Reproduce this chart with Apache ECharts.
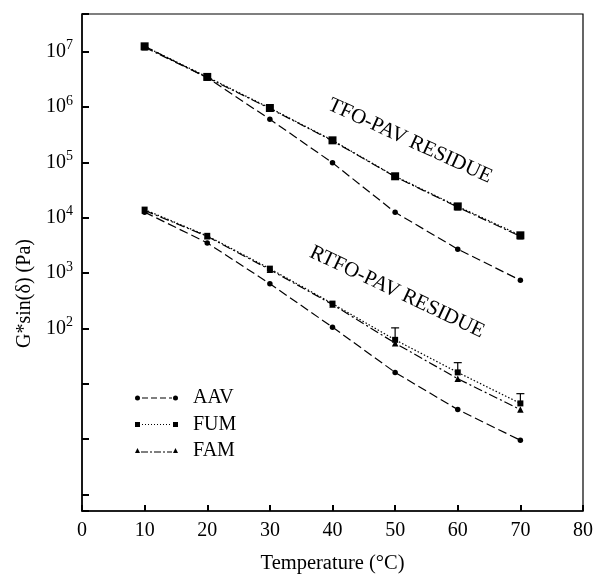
<!DOCTYPE html>
<html>
<head>
<meta charset="utf-8">
<script src="https://cdn.jsdelivr.net/npm/echarts@6/dist/echarts.min.js"></script>
<style>
  html, body { margin: 0; padding: 0; background: #fff; }
  #main { width: 595px; height: 578px; }
</style>
</head>
<body>
<div id="main"></div>
<script>
// temperatures (°C)
var temps = [10, 20, 30, 40, 50, 60, 70];

// TFO-PAV residue, G*sin(delta) in Pa
var tfoAAV = [1.25e7, 3.4e6, 6.0e5, 9.8e4, 1.25e4, 2.7e3, 740];
var tfoFUM = [1.25e7, 3.5e6, 9.6e5, 2.5e5, 5.6e4, 1.6e4, 4.8e3];
var tfoFAM = [1.2e7, 3.4e6, 9.4e5, 2.45e5, 5.5e4, 1.55e4, 4.6e3];

// RTFO-PAV residue
var rtfoAAV = [1.26e4, 3.5e3, 640, 105, 16, 3.4, 0.95];
var rtfoFUM = [1.4e4, 4.7e3, 1.2e3, 280, 62, 16, 4.4];
var rtfoFAM = [1.35e4, 4.6e3, 1.15e3, 270, 54, 12.3, 3.4];

// upper error bars on RTFO FUM
var errTemps = [50, 60, 70];
var errTop = [102, 24, 6.6];

var font = 'Liberation Serif';

function pairs(ys) {
    return temps.map(function (t, i) { return [t, ys[i]]; });
}

var errData = errTemps.map(function (t, i) {
    return [t, rtfoFUM[temps.indexOf(t)], errTop[i]];
});

var styles = {
    AAV: { symbol: 'circle', size: 5.5, dash: [9, 4] },
    FUM: { symbol: 'rect', size: 6, dash: [1.5, 2] },
    FAM: { symbol: 'triangle', size: 6.5, dash: [9, 3, 2, 3] }
};

function lineSeries(name, ys, big) {
    var s = styles[name];
    return {
        name: name,
        type: 'line',
        data: pairs(ys),
        symbol: s.symbol,
        symbolSize: big ? s.size + 2 : s.size,
        color: '#000',
        lineStyle: { color: '#000', width: 1.2, type: s.dash },
        itemStyle: { color: '#000' },
        animation: false,
        z: 3
    };
}

var chartDom = document.getElementById('main');
var myChart = echarts.init(chartDom);
var option;

option = {
    backgroundColor: '#fff',
    animation: false,
    grid: {
        left: 82, right: 12, top: 14, bottom: 67,
        show: true, borderColor: '#000', borderWidth: 1.2,
        outerBoundsMode: 'none'
    },
    legend: {
        orient: 'vertical',
        left: 135, top: 388, padding: 0,
        itemWidth: 43, itemHeight: 8, itemGap: 6.5,
        textStyle: { fontFamily: font, fontSize: 20, color: '#000', padding: [0, 0, 0, 10], lineHeight: 20 },
        data: [
            { name: 'AAV', icon: 'path://M0,4a2.5,2.5 0 1,0 5,0a2.5,2.5 0 1,0 -5,0ZM7,3.4h6v1.2h-6ZM16,3.4h6v1.2h-6ZM25,3.4h6v1.2h-6ZM34,3.4h3v1.2h-3ZM38,4a2.5,2.5 0 1,0 5,0a2.5,2.5 0 1,0 -5,0Z' },
            { name: 'FUM', icon: 'path://M0,1.5h5v5h-5ZM7,3.5h1v1h-1ZM10,3.5h1v1h-1ZM13,3.5h1v1h-1ZM16,3.5h1v1h-1ZM19,3.5h1v1h-1ZM22,3.5h1v1h-1ZM25,3.5h1v1h-1ZM28,3.5h1v1h-1ZM31,3.5h1v1h-1ZM34,3.5h1v1h-1ZM38,1.5h5v5h-5ZM0,0h0.01v0.01h-0.01ZM43,8h-0.01v-0.01h0.01Z' },
            { name: 'FAM', icon: 'path://M0,6l2.5,-5l2.5,5ZM6,4.4h7v1.2h-7ZM15,4.4h2v1.2h-2ZM19,4.4h7v1.2h-7ZM28,4.4h2v1.2h-2ZM32,4.4h5v1.2h-5ZM38,6l2.5,-5l2.5,5ZM0,0h0.01v0.01h-0.01ZM43,8h-0.01v-0.01h0.01Z' }
        ]
    },
    xAxis: {
        type: 'value',
        min: 0, max: 80, interval: 10,
        name: 'Temperature (°C)',
        nameLocation: 'middle',
        nameGap: 42,
        nameTextStyle: { fontFamily: font, fontSize: 20.5, color: '#000' },
        axisLine: { show: true, lineStyle: { color: '#000', width: 1.5 } },
        axisTick: { inside: true, length: 6, lineStyle: { color: '#000', width: 2 } },
        axisLabel: { fontFamily: font, fontSize: 20, color: '#000', margin: 10 },
        splitLine: { show: false }
    },
    yAxis: {
        type: 'log',
        logBase: 10,
        min: 0.05, max: 4.8e7,
        name: 'G*sin(δ) (Pa)',
        nameLocation: 'middle',
        nameGap: 37,
        nameTextStyle: { fontFamily: font, fontSize: 20, color: '#000', padding: [0, 62, 0, 0] },
        axisLine: { show: true, lineStyle: { color: '#000', width: 1.5 } },
        axisTick: { inside: true, length: 7, lineStyle: { color: '#000', width: 2 } },
        axisLabel: {
            margin: 9,
            formatter: function (v) {
                var l = Math.log10(v);
                var p = Math.round(l);
                if (Math.abs(l - p) > 1e-6 || p < 2 || p > 7) return '';
                return '{b|10}{s|' + p + '}';
            },
            rich: {
                b: { fontFamily: font, fontSize: 20, color: '#000', lineHeight: 26 },
                s: { fontFamily: font, fontSize: 14, color: '#000', verticalAlign: 'top' }
            }
        },
        splitLine: { show: false }
    },
    graphic: [
        {
            type: 'text', x: 410, y: 141, rotation: -0.43,
            style: { text: 'TFO-PAV RESIDUE', font: '21px "Liberation Serif"', fill: '#000', align: 'center', verticalAlign: 'middle' }
        },
        {
            type: 'text', x: 397, y: 292, rotation: -0.44,
            style: { text: 'RTFO-PAV RESIDUE', font: '21px "Liberation Serif"', fill: '#000', align: 'center', verticalAlign: 'middle' }
        }
    ],
    series: [
        lineSeries('AAV', tfoAAV, false),
        lineSeries('FUM', tfoFUM, true),
        lineSeries('FAM', tfoFAM, false),
        lineSeries('AAV', rtfoAAV, false),
        lineSeries('FUM', rtfoFUM, false),
        lineSeries('FAM', rtfoFAM, false),
        {
            name: 'FUM error',
            type: 'custom',
            data: errData,
            animation: false,
            z: 4,
            renderItem: function (params, api) {
                var lo = api.coord([api.value(0), api.value(1)]);
                var hi = api.coord([api.value(0), api.value(2)]);
                return {
                    type: 'group',
                    children: [
                        { type: 'line', shape: { x1: lo[0], y1: lo[1], x2: hi[0], y2: hi[1] }, style: { stroke: '#000', lineWidth: 1.2 } },
                        { type: 'line', shape: { x1: hi[0] - 4, y1: hi[1], x2: hi[0] + 4, y2: hi[1] }, style: { stroke: '#000', lineWidth: 1.2 } }
                    ]
                };
            }
        }
    ]
};

option && myChart.setOption(option);
</script>
</body>
</html>
